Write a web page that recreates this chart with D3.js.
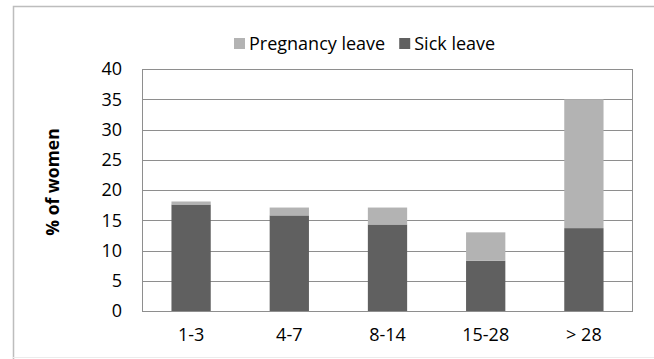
<!DOCTYPE html>
<html>
<head>
<meta charset="utf-8">
<script src="https://cdn.jsdelivr.net/npm/d3@7"></script>
<style>
  html, body { margin: 0; padding: 0; background: #fff; }
  svg { display: block; font-family: "Open Sans", sans-serif; }
</style>
</head>
<body>
<div id="chart"></div>
<script>
(function () {

  // Datos
  const categories = ['1-3', '4-7', '8-14', '15-28', '> 28']
  const sick_leave = [17.6, 15.8, 14.3, 8.3, 13.7]
  const pregnancy_leave = [0.5, 1.3, 2.8, 4.7, 21.3]
  const y_ticks = [0, 5, 10, 15, 20, 25, 30, 35, 40]
  const series_names = ['Pregnancy leave', 'Sick leave']

  const width = 654
  const height = 359
  const margin = { top: 69, right: 21, bottom: 48, left: 142 }

  const color = d3.scaleOrdinal()
    .domain(series_names)
    .range(['#b3b3b3', '#606060'])

  const svg = d3.select('#chart').append('svg')
    .attr('width', width)
    .attr('height', height)

  // Marco exterior
  svg.append('path')
    .attr('d', `M13.5,${height} V6.5 H${width}`)
    .attr('fill', 'none')
    .attr('stroke', '#bdbdbd')
    .attr('stroke-width', 1.5)
  svg.append('line')
    .attr('x1', 13).attr('x2', width)
    .attr('y1', 357.5).attr('y2', 357.5)
    .attr('stroke', '#ececec')

  const x = d3.scaleBand()
    .domain(categories)
    .range([margin.left, width - margin.right])
    .paddingInner(0.6)
    .paddingOuter(0.3)

  const y = d3.scaleLinear()
    .domain([0, 40])
    .range([height - margin.bottom, margin.top])

  // Rejilla
  svg.append('g')
    .selectAll('line')
    .data(y_ticks)
    .join('line')
    .attr('x1', margin.left)
    .attr('x2', width - margin.right)
    .attr('y1', d => Math.round(y(d)) + 0.5)
    .attr('y2', d => Math.round(y(d)) + 0.5)
    .attr('stroke', '#8e8e8e')
    .attr('stroke-width', 1)

  // Barras apiladas
  const stack_data = categories.map((c, i) => ({
    cat: c,
    'Sick leave': sick_leave[i],
    'Pregnancy leave': pregnancy_leave[i]
  }))
  const stacked = d3.stack().keys(['Sick leave', 'Pregnancy leave'])(stack_data)

  svg.append('g')
    .selectAll('g')
    .data(stacked)
    .join('g')
    .attr('fill', d => color(d.key))
    .selectAll('rect')
    .data(d => d)
    .join('rect')
    .attr('x', d => x(d.data.cat))
    .attr('width', x.bandwidth())
    .attr('y', d => y(d[1]))
    .attr('height', d => y(d[0]) - y(d[1]))

  // Borde del área de trazado
  svg.append('rect')
    .attr('x', margin.left + 0.5)
    .attr('y', margin.top + 0.5)
    .attr('width', width - margin.right - margin.left - 1)
    .attr('height', height - margin.bottom - margin.top)
    .attr('fill', 'none')
    .attr('stroke', '#8e8e8e')

  // Eje Y
  const yAxis = svg.append('g')
    .attr('transform', `translate(${margin.left - 20},0)`)
    .call(d3.axisLeft(y).tickValues(y_ticks).tickSize(0).tickPadding(0))
  yAxis.select('.domain').remove()
  yAxis.selectAll('text')
    .attr('font-size', 18)
    .attr('font-family', '"Open Sans", sans-serif')
    .attr('fill', '#000')

  // Eje X
  const xAxis = svg.append('g')
    .attr('transform', `translate(0,${height - margin.bottom})`)
    .call(d3.axisBottom(x).tickSize(0).tickPadding(17))
  xAxis.select('.domain').remove()
  xAxis.selectAll('text')
    .attr('font-size', 18)
    .attr('font-family', '"Open Sans", sans-serif')
    .attr('fill', '#000')

  // Título eje Y
  svg.append('text')
    .attr('transform', `translate(59,182) rotate(-90)`)
    .attr('text-anchor', 'middle')
    .attr('font-size', 17.5)
    .attr('font-weight', 'bold')
    .text('% of women')

  // Leyenda
  const legend = svg.append('g')
  let lx = 234
  series_names.forEach(name => {
    legend.append('rect')
      .attr('x', lx).attr('y', 38)
      .attr('width', 11).attr('height', 11)
      .attr('fill', color(name))
    const t = legend.append('text')
      .attr('x', lx + 15)
      .attr('y', 50)
      .attr('font-size', 18)
      .text(name)
    lx += 15 + t.node().getComputedTextLength() + 14
  })

})()
</script>
</body>
</html>
